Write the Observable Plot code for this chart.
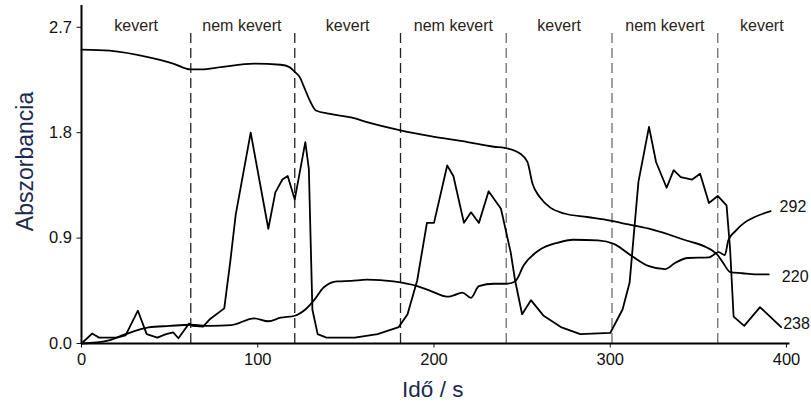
<!DOCTYPE html>
<html>
<head>
<meta charset="utf-8">
<script src="https://cdn.jsdelivr.net/npm/d3@7"></script>
<script src="https://cdn.jsdelivr.net/npm/@observablehq/plot@0.6"></script>
<style>
  html, body { margin: 0; padding: 0; background: #fff; }
  #chart svg { display: block; }
</style>
</head>
<body>
<div id="chart"></div>
<script>
// Absorbance at 220 nm
const time220 = [0, 16, 39, 52, 62, 68, 79, 98, 113, 118, 121, 124, 126, 130, 133, 141, 153, 162, 181, 198, 219, 234, 240, 249, 253, 256, 260, 266, 274, 287, 300, 306, 322, 341, 360, 364, 368, 375, 382, 390];
const abs220 = [2.51, 2.50, 2.44, 2.39, 2.34, 2.34, 2.36, 2.39, 2.38, 2.36, 2.32, 2.27, 2.20, 2.06, 1.99, 1.96, 1.93, 1.89, 1.82, 1.77, 1.72, 1.68, 1.67, 1.62, 1.55, 1.36, 1.25, 1.16, 1.11, 1.08, 1.05, 1.03, 0.98, 0.89, 0.77, 0.69, 0.61, 0.60, 0.59, 0.59];

// Absorbance at 238 nm
const time238 = [0, 6, 10, 20, 25, 32, 37, 43, 48, 52, 55, 61, 63, 69, 73, 81, 84.5, 87.5, 96, 106, 110, 114, 117, 121, 127, 129, 131, 134, 139, 155, 168, 180, 185, 190.5, 196, 200, 207.5, 211, 217, 221, 225.5, 231, 238, 243.5, 246, 250, 255, 262, 272, 283, 300, 307, 311, 316, 322, 326, 332, 336, 340, 346.5, 351, 356, 361, 366, 368, 370, 376, 385, 397];
const abs238 = [0, 0.085, 0.05, 0.05, 0.07, 0.28, 0.08, 0.05, 0.08, 0.095, 0.045, 0.17, 0.15, 0.145, 0.21, 0.30, 0.71, 1.10, 1.80, 0.98, 1.29, 1.40, 1.43, 1.23, 1.72, 1.49, 0.29, 0.08, 0.05, 0.05, 0.08, 0.14, 0.25, 0.54, 1.03, 1.03, 1.52, 1.43, 1.03, 1.12, 1.03, 1.30, 1.15, 0.78, 0.54, 0.25, 0.37, 0.24, 0.14, 0.08, 0.09, 0.29, 0.52, 1.38, 1.85, 1.55, 1.33, 1.48, 1.42, 1.40, 1.45, 1.20, 1.26, 1.18, 0.81, 0.23, 0.15, 0.31, 0.14];

// Absorbance at 292 nm
const time292 = [0, 15, 25, 38, 50, 62, 73, 85, 98, 106, 113, 121, 127, 132, 137.5, 145, 153, 162, 177, 190.5, 198, 207.5, 211, 216, 221, 225.5, 234, 241, 246, 251, 260, 270, 279, 293, 302, 312, 322, 331, 337, 344, 356, 361.5, 365, 367, 371, 376, 382, 391];
const abs292 = [0, 0.025, 0.08, 0.137, 0.15, 0.16, 0.15, 0.157, 0.215, 0.19, 0.22, 0.237, 0.29, 0.37, 0.48, 0.53, 0.535, 0.545, 0.53, 0.49, 0.45, 0.40, 0.41, 0.435, 0.39, 0.49, 0.51, 0.51, 0.53, 0.67, 0.80, 0.86, 0.886, 0.88, 0.85, 0.75, 0.66, 0.635, 0.69, 0.73, 0.735, 0.78, 0.755, 0.88, 0.96, 1.03, 1.08, 1.13];

// Stirred / unstirred phases
const phaseBounds = [62, 121, 181, 241, 301, 361];
const phaseNames = ["kevert", "nem kevert", "kevert", "nem kevert", "kevert", "nem kevert", "kevert"];
const phaseCenters = [31, 91, 151, 211, 271, 331, 386];

const xTicks = [0, 100, 200, 300, 400];
const yTicks = [0, 0.9, 1.8, 2.7];

const series = [
  {name: "220", time: time220, abs: abs220, curve: "monotone-x", dx: 13, dy: 2},
  {name: "238", time: time238, abs: abs238, curve: "linear", dx: 2, dy: -3},
  {name: "292", time: time292, abs: abs292, curve: "monotone-x", dx: 9, dy: -4}
];
const toRows = s => s.time.map((t, i) => ({t, a: s.abs[i], series: s.name}));

const phases = phaseNames.map((label, i) => ({t: phaseCenters[i], label}));
const font = "'Liberation Sans', Arial, sans-serif";
const ink = "#111";
const labelInk = "#1b2a4e";

const marks = [
  Plot.ruleX(phaseBounds.slice(0, 3), {y1: 0, y2: 2.68, stroke: "#222", strokeWidth: 1.3, strokeDasharray: "10,5"}),
  Plot.ruleX(phaseBounds.slice(3), {y1: 0, y2: 2.68, stroke: "#777", strokeWidth: 1.4, strokeDasharray: "10,5"}),
  ...series.map(s => Plot.line(toRows(s), {x: "t", y: "a", stroke: "#000", strokeWidth: 1.8, curve: s.curve, strokeLinejoin: "round"})),
  ...series.map(s => {
    const rows = toRows(s);
    return Plot.text([rows[rows.length - 1]], {x: "t", y: "a", text: d => d.series, textAnchor: "start", dx: s.dx, dy: s.dy, fontSize: 16, fill: ink});
  }),
  Plot.text(phases, {x: "t", text: "label", frameAnchor: "top", lineAnchor: "middle", dy: 20, fontSize: 16, fill: "#2a2418"}),
  Plot.ruleX([0], {stroke: "#000", strokeWidth: 2}),
  Plot.ruleY([0], {stroke: "#000", strokeWidth: 2}),
  Plot.text(["Abszorbancia"], {frameAnchor: "left", textAnchor: "middle", lineAnchor: "middle", rotate: -90, dx: -56, dy: -13, fontSize: 23, fill: labelInk}),
  Plot.text(["Idő / s"], {frameAnchor: "bottom", textAnchor: "middle", lineAnchor: "middle", dx: -3, dy: 46, fontSize: 22.5, fill: labelInk})
];

const chart = Plot.plot({
  width: 811,
  height: 403,
  marginLeft: 81,
  marginRight: 21.5,
  marginTop: 5,
  marginBottom: 60,
  style: {fontFamily: font, fontSize: "16.5px", color: ink, background: "#fff", overflow: "visible"},
  x: {domain: [0, 402], ticks: xTicks, tickSize: 4.5, tickPadding: 5, tickFormat: d => String(d), label: null},
  y: {domain: [0, 2.886], ticks: yTicks, tickSize: 4.5, tickPadding: 5, tickFormat: d => d.toFixed(1), label: null},
  marks
});
document.getElementById("chart").appendChild(chart);
</script>
</body>
</html>
